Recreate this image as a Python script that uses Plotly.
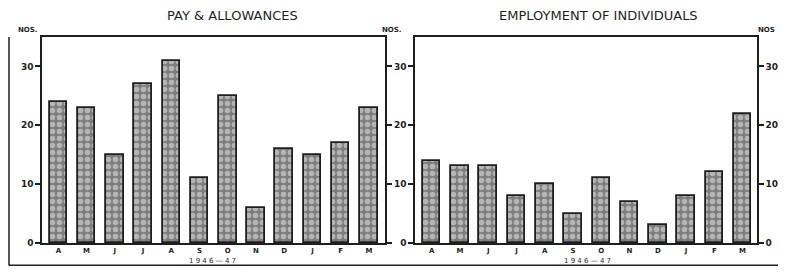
import plotly.graph_objects as go

months = ["A", "M", "J", "J", "A", "S", "O", "N", "D", "J", "F", "M"]
pay_allowances = [24, 23, 15, 27, 31, 11, 25, 6, 16, 15, 17, 23]
employment = [14, 13, 13, 8, 10, 5, 11, 7, 3, 8, 12, 22]
y_ticks = [0, 10, 20, 30]
y_tick_text = ["0", "10", "20", "30"]
title_left = "PAY &amp; ALLOWANCES"
title_right = "EMPLOYMENT OF INDIVIDUALS"
period = "1 9 4 6 — 4 7"

# the page body has an 8px margin; size the figure so the page is exactly 786x274
OFF = 8
W, H = 786 - 2 * OFF, 274 - 2 * OFF
def px(x):
    return (x - OFF) / W
def py(y):
    return 1 - (y - OFF) / H

INK = "#1e1e1e"
FONT = "DejaVu Sans"
xs = list(range(len(months)))

bar_style = dict(
    color="#9c9c9c",
    line=dict(color=INK, width=1.8),
    pattern=dict(shape=".", fgcolor="#eeeeee", bgcolor="#7d7d7d", size=7, solidity=0.5),
)

fig = go.Figure()
fig.add_trace(go.Bar(x=xs, y=pay_allowances, width=0.62, marker=bar_style,
                     xaxis="x", yaxis="y", showlegend=False))
fig.add_trace(go.Bar(x=xs, y=employment, width=0.62, marker=bar_style,
                     xaxis="x2", yaxis="y2", showlegend=False))
# invisible trace to carry the right-hand scale of the second panel
fig.add_trace(go.Scatter(x=xs, y=employment, mode="markers", marker=dict(opacity=0),
                         hoverinfo="skip", xaxis="x2", yaxis="y3", showlegend=False))

ydom = [py(243), py(37)]
common_x = dict(tickmode="array", tickvals=xs, ticktext=["<b>%s</b>" % m for m in months],
                showline=True, linecolor=INK, linewidth=2, mirror=True, ticks="",
                showgrid=False, zeroline=False, ticklabelstandoff=0,
                tickfont=dict(family=FONT, size=7, color=INK))
common_y = dict(range=[0, 35], tickmode="array", tickvals=y_ticks,
                ticktext=["<b>%s</b>" % t for t in y_tick_text],
                showline=True, linecolor=INK, linewidth=1.5, ticks="outside",
                ticklen=5, tickwidth=1.5, tickcolor=INK, showgrid=False, zeroline=False,
                tickfont=dict(family=FONT, size=9, color=INK), domain=ydom)

fig.update_layout(
    width=W, height=H, margin=dict(l=0, r=0, t=0, b=0, autoexpand=False),
    paper_bgcolor="white", plot_bgcolor="white", bargap=0,
    xaxis=dict(domain=[px(42), px(385)], range=[-0.58, 11.57], anchor="y", **common_x),
    xaxis2=dict(domain=[px(415), px(757)], range=[-0.59, 11.51], anchor="y2", **common_x),
    yaxis=dict(anchor="x", mirror="ticks", **common_y),
    yaxis2=dict(anchor="x2", mirror="ticks", **common_y),
    yaxis3=dict(anchor="x2", overlaying="y2", side="right",
                **{k: v for k, v in common_y.items() if k != "domain"}),
    font=dict(family=FONT, color=INK),
)

ann = []
ann.append(dict(x=px(232), y=py(15), text=title_left, font=dict(size=13, family=FONT, color=INK)))
ann.append(dict(x=px(598), y=py(15), text=title_right, font=dict(size=13, family=FONT, color=INK)))
ann.append(dict(x=px(28), y=py(30), text="<b>NOS.</b>", font=dict(size=7, family=FONT, color=INK)))
ann.append(dict(x=px(392), y=py(30), text="<b>NOS.</b>", font=dict(size=7, family=FONT, color=INK)))
ann.append(dict(x=px(777), y=py(30), text="<b>NOS</b>", xanchor="right",
                font=dict(size=7, family=FONT, color=INK)))
ann.append(dict(x=px(213), y=py(261), text=period, font=dict(size=7, family=FONT, color=INK)))
ann.append(dict(x=px(587), y=py(261), text=period, font=dict(size=7, family=FONT, color=INK)))
for a in ann:
    a.setdefault("xanchor", "center")
    a.update(xref="paper", yref="paper", showarrow=False, yanchor="middle")
fig.update_layout(annotations=ann)

fig.update_layout(shapes=[
    dict(type="line", xref="paper", yref="paper", x0=px(9), x1=px(9), y0=py(37), y1=py(265.5),
         line=dict(color=INK, width=1.5)),
    dict(type="line", xref="paper", yref="paper", x0=px(9), x1=1, y0=py(265.5), y1=py(265.5),
         line=dict(color=INK, width=2)),
])

fig.write_html("out.html")
